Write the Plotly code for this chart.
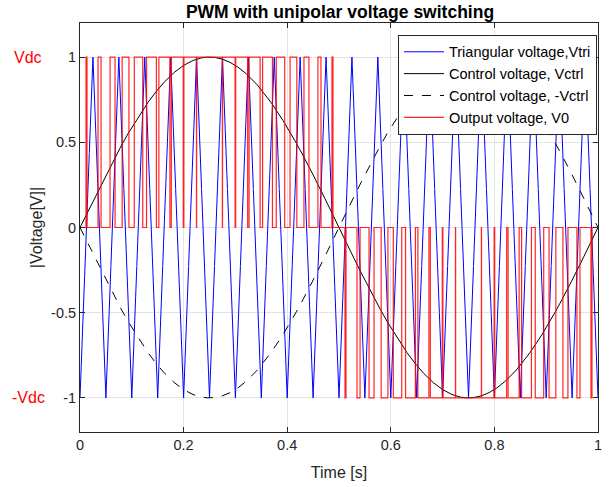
import numpy as np
import plotly.graph_objects as go

# Parameters
f_ctrl = 1.0      # control (sine) frequency, Hz
f_tri = 20.0      # triangular carrier frequency, Hz
amp_ctrl = 1.0    # control amplitude
t_start, t_end = 0.0, 1.0
n_samples = 20001

x_ticks = [0, 0.2, 0.4, 0.6, 0.8, 1]
x_tick_labels = ["0", "0.2", "0.4", "0.6", "0.8", "1"]
y_ticks = [-1, -0.5, 0, 0.5, 1]
y_tick_labels = ["-1", "-0.5", "0", "0.5", "1"]

t = np.linspace(t_start, t_end, n_samples)
phase = (t * f_tri) % 1.0
v_tri = np.where(phase < 0.5, -1 + 4 * phase, 3 - 4 * phase)
v_ctrl = amp_ctrl * np.sin(2 * np.pi * f_ctrl * t)
v_ctrl_neg = -v_ctrl
va = (v_ctrl > v_tri).astype(float)
vb = (v_ctrl_neg > v_tri).astype(float)
v0 = va - vb

fig = go.Figure()
fig.add_trace(go.Scatter(x=t, y=v_tri, mode="lines", name="Triangular voltage,Vtri",
                         line=dict(color="#0000ff", width=1)))
fig.add_trace(go.Scatter(x=t, y=v_ctrl, mode="lines", name="Control voltage, Vctrl",
                         line=dict(color="#000000", width=1)))
fig.add_trace(go.Scatter(x=t, y=v_ctrl_neg, mode="lines", name="Control voltage, -Vctrl",
                         line=dict(color="#000000", width=1, dash="dash")))
fig.add_trace(go.Scatter(x=t, y=v0, mode="lines", name="Output voltage, V0",
                         line=dict(color="rgba(255,0,0,0.85)", width=1.2)))

axis_common = dict(showline=True, linecolor="#262626", linewidth=1, mirror="ticks",
                   ticks="inside", ticklen=5, tickcolor="#262626", automargin=False,
                   showgrid=True, gridcolor="#e3e3e3", gridwidth=1, zeroline=False,
                   tickfont=dict(family="Liberation Sans, Arial, sans-serif", size=14.5, color="#262626"))

fig.update_layout(
    width=611, height=487,
    margin=dict(l=80, r=13, t=23, b=55, autoexpand=False),
    paper_bgcolor="white", plot_bgcolor="white",
    font=dict(family="Liberation Sans, Arial, sans-serif", size=14, color="#262626"),
    title=dict(text="<b>PWM with unipolar voltage switching</b>", x=340 / 611, xanchor="center",
               y=1 - 12 / 487, yanchor="middle", font=dict(size=17.5, color="#000000")),
    xaxis=dict(range=[0, 1], tickvals=x_ticks, ticktext=x_tick_labels,
               title=dict(text="Time [s]", font=dict(size=16), standoff=14), **axis_common),
    yaxis=dict(range=[-1.2, 1.2], tickvals=y_ticks, ticktext=y_tick_labels,
               title=dict(text="|Voltage[V]|", font=dict(size=16), standoff=4), **axis_common),
    legend=dict(x=0.998, y=0.971, xanchor="right", yanchor="top",
                bgcolor="white", bordercolor="#262626", borderwidth=1,
                font=dict(size=14.5, color="#000000"), tracegroupgap=0, itemwidth=40),
    showlegend=True,
)

fig.add_annotation(text="Vdc", xref="paper", yref="y", x=-0.1, y=1, xanchor="center", yanchor="middle",
                   showarrow=False, font=dict(size=16, color="#ff0000"))
fig.add_annotation(text="-Vdc", xref="paper", yref="y", x=-0.1, y=-1, xanchor="center", yanchor="middle",
                   showarrow=False, font=dict(size=16, color="#ff0000"))

fig.write_html("out.html", config={"displayModeBar": False},
               post_script="document.body.style.margin='0px';document.body.style.padding='0px';")
